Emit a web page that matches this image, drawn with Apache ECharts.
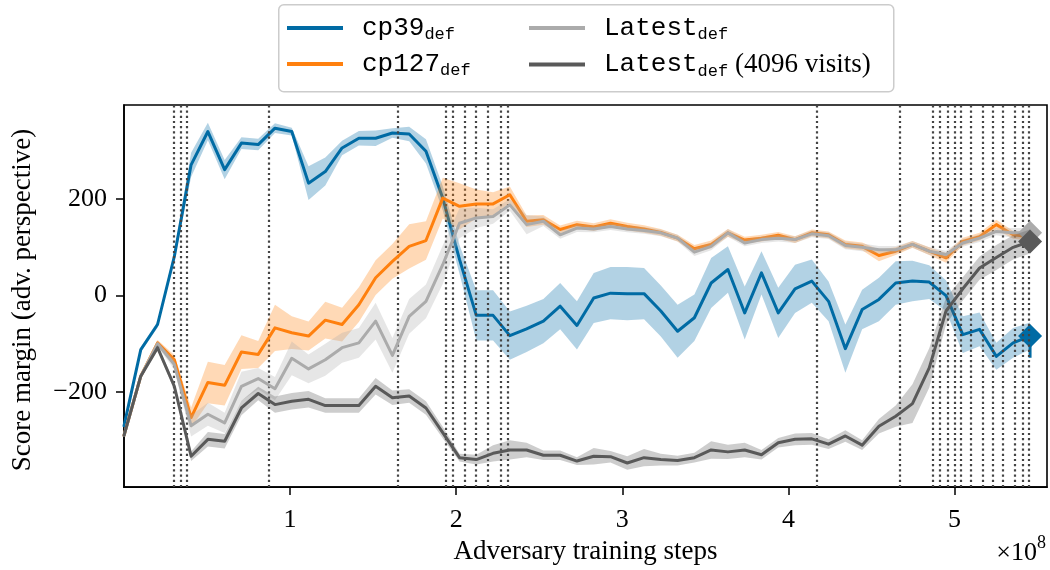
<!DOCTYPE html>
<html><head><meta charset="utf-8">
<script src="https://cdn.jsdelivr.net/npm/echarts@6/dist/echarts.min.js"></script>
<style>html,body{margin:0;padding:0;background:#fff}#c{width:1050px;height:570px}</style>
</head><body><div id="c"></div>
<script>
// Adversary training steps (units of 1e8)
const steps = [0.000,0.101,0.202,0.303,0.404,0.505,0.606,0.707,0.808,0.909,
  1.010,1.111,1.212,1.313,1.414,1.515,1.616,1.717,1.818,1.919,
  2.020,2.121,2.222,2.323,2.424,2.525,2.626,2.727,2.828,2.929,
  3.030,3.131,3.232,3.333,3.434,3.535,3.636,3.737,3.838,3.939,
  4.040,4.141,4.242,4.343,4.444,4.545,4.646,4.747,4.848,4.949,
  5.050,5.151,5.252,5.353,5.455];

const cp39 = [-270,-112,-60,81,271,340,261,316,313,347,
  340,233,257,306,326,326,337,335,299,202,
  75,-41,-41,-83,-69,-53,-22,-62,-5,5,
  4,4,-32,-74,-46,26,54,-36,47,-36,
  14,30,-12,-110,-29,-8,26,30,28,0,
  -81,-70,-126,-98,-84];
const cp39Err = [5,5,6,10,25,18,20,12,12,10,
  8,35,29,15,15,16,10,15,25,25,
  30,52,52,50,48,46,48,50,52,54,
  55,53,53,55,48,52,48,55,45,52,
  50,45,41,50,41,45,45,42,35,32,
  38,35,28,31,28];

const cp127 = [-290,-167,-98,-133,-253,-180,-186,-117,-122,-67,
  -77,-84,-51,-60,-19,37,71,102,114,202,
  185,190,190,209,154,157,137,147,142,150,
  143,138,131,119,97,106,130,115,119,125,
  116,130,126,106,102,83,92,106,92,78,
  112,122,147,126,122];
const cp127Err = [4,5,6,10,21,43,42,35,28,48,
  34,30,38,35,36,36,36,46,40,42,
  48,30,24,17,12,10,8,8,8,8,
  8,8,7,7,8,8,8,7,7,7,
  7,7,7,8,8,12,8,7,8,10,
  8,8,10,8,8];

const latest = [-290,-167,-100,-143,-270,-246,-264,-188,-172,-193,
  -130,-152,-133,-108,-98,-53,-124,-43,-12,64,
  150,161,164,188,147,154,126,140,138,143,
  138,135,130,119,90,102,130,109,116,119,
  116,128,124,104,100,95,95,106,92,85,
  109,119,133,130,130];
const latestErr = [4,5,6,10,22,24,21,30,22,24,
  35,30,33,31,31,38,36,36,35,40,
  31,21,15,12,20,10,8,8,7,7,
  7,7,7,7,8,8,8,7,7,7,
  7,7,7,8,8,8,8,7,8,8,
  8,8,8,10,10];

const latest4096 = [-290,-167,-108,-188,-333,-298,-302,-233,-203,-226,
  -219,-215,-228,-228,-228,-188,-212,-208,-233,-284,
  -336,-340,-327,-320,-320,-331,-331,-343,-333,-334,
  -347,-336,-340,-342,-336,-320,-324,-320,-330,-305,
  -298,-297,-308,-291,-310,-271,-250,-224,-150,-32,
  14,57,79,100,112];
const latest4096Err = [4,5,6,8,10,15,15,15,14,17,
  17,17,15,15,15,17,15,14,14,12,
  8,10,17,20,15,10,10,8,17,12,
  14,18,12,10,10,18,15,15,10,10,
  12,12,10,12,10,15,22,40,41,28,
  24,24,26,25,25];

// error bar below the final cp39 marker (low, high)
const cp39EndBar = [-129, -66];

// dotted vertical lines (units of 1e8)
const vlines = [0.297,0.342,0.384,0.874,1.646,1.943,1.978,2.049,2.120,2.190,2.270,2.308,
  4.175,4.674,4.873,4.913,4.960,4.999,5.044,5.098,5.168,5.231,5.294,5.355,5.405,5.445];

const xTicks = [1,2,3,4,5];
const yTicks = [-200,0,200];

const C = {blue:'#006BA4', orange:'#FF800E', light:'#ABABAB', dark:'#595959'};
const SERIF = "'Liberation Serif', 'DejaVu Serif', serif";
const MONO = "'Liberation Mono', 'DejaVu Sans Mono', monospace";

function bandSeries(mid, err, color, z) {
  return {
    type: 'custom', silent: true, z: z, animation: false,
    data: [[steps[0], mid[0]]],
    renderItem: function (params, api) {
      if (params.dataIndex !== 0) return null;
      const pts = [];
      for (let i = 0; i < steps.length; i++) pts.push(api.coord([steps[i], mid[i] + err[i]]));
      for (let i = steps.length - 1; i >= 0; i--) pts.push(api.coord([steps[i], mid[i] - err[i]]));
      return {type: 'polygon', shape: {points: pts}, style: {fill: color, opacity: 0.3}};
    }
  };
}
function lineSeries(name, mid, color, z) {
  return {
    type: 'line', name: name, z: z, animation: false, symbol: 'none', showSymbol: false,
    data: steps.map((x, i) => [x, mid[i]]),
    lineStyle: {color: color, width: 3, join: 'round', cap: 'round'},
    itemStyle: {color: color}, emphasis: {disabled: true}
  };
}
function markerSeries(mid, color, z) {
  const n = steps.length - 1;
  return {
    type: 'scatter', z: z, animation: false, silent: true,
    symbol: 'diamond', symbolSize: 24,
    data: [[steps[n], mid[n]]],
    itemStyle: {color: color, opacity: 1}
  };
}

const last = steps.length - 1;
const series = [
  {
    type: 'line', z: 1, animation: false, silent: true, symbol: 'none',
    data: [[steps[0], cp39[0]]], lineStyle: {opacity: 0},
    markLine: {
      symbol: ['none', 'none'], silent: true, animation: false,
      label: {show: false},
      lineStyle: {type: [2.2, 3], color: '#444444', width: 2.2},
      emphasis: {disabled: true},
      data: vlines.map(v => ({xAxis: v}))
    }
  },
  bandSeries(cp39, cp39Err, C.blue, 2),
  lineSeries('cp39', cp39, C.blue, 3),
  {
    type: 'line', z: 3, animation: false, silent: true, symbol: 'none',
    data: [[steps[last], cp39EndBar[0]], [steps[last], cp39EndBar[1]]],
    lineStyle: {color: C.blue, width: 3}
  },
  markerSeries(cp39, C.blue, 4),
  bandSeries(cp127, cp127Err, C.orange, 5),
  lineSeries('cp127', cp127, C.orange, 6),
  bandSeries(latest, latestErr, C.light, 7),
  lineSeries('Latest', latest, C.light, 8),
  markerSeries(latest, C.light, 9),
  bandSeries(latest4096, latest4096Err, C.dark, 10),
  lineSeries('Latest4096', latest4096, C.dark, 11),
  markerSeries(latest4096, C.dark, 12)
];

const legendRich = {
  g: {width: 14},
  m: {fontFamily: MONO, fontSize: 26, color: '#000', lineHeight: 30, verticalAlign: 'middle'},
  s: {fontFamily: MONO, fontSize: 17, color: '#000', lineHeight: 14, verticalAlign: 'bottom'},
  r: {fontFamily: SERIF, fontSize: 27, color: '#000', lineHeight: 30, verticalAlign: 'middle'}
};
const legendNames = {
  'cp39': '{g|}{m|cp39}{s|def}',
  'cp127': '{g|}{m|cp127}{s|def}',
  'Latest': '{g|}{m|Latest}{s|def}',
  'Latest4096': '{g|}{m|Latest}{s|def}{r| (4096 visits)}'
};
function legendCfg(left, names) {
  return {
    orient: 'vertical', left: left, top: 15, padding: 0, itemGap: 8,
    icon: 'rect', itemWidth: 56, itemHeight: 4, selectedMode: false,
    data: names, formatter: n => legendNames[n],
    textStyle: {rich: legendRich}
  };
}

const option = {
  animation: false,
  backgroundColor: '#fff',
  grid: {left: 124, right: 3, top: 105, bottom: 82, show: true, borderColor: '#000', borderWidth: 1.6, backgroundColor: 'transparent'},
  xAxis: {
    type: 'value', min: 0, max: 5.557,
    name: 'Adversary training steps', nameLocation: 'middle', nameGap: 49,
    nameTextStyle: {fontFamily: SERIF, fontSize: 27, color: '#000'},
    axisLine: {show: true, onZero: false, lineStyle: {color: '#000', width: 1.6}},
    axisTick: {show: true, length: 8, lineStyle: {color: '#000', width: 1.5}, customValues: xTicks},
    axisLabel: {fontFamily: SERIF, fontSize: 26, color: '#000', margin: 20, customValues: xTicks, formatter: v => String(v)},
    splitLine: {show: false}
  },
  yAxis: {
    type: 'value', min: -397, max: 395,
    axisLine: {show: true, onZero: false, lineStyle: {color: '#000', width: 1.6}},
    axisTick: {show: true, length: 8, lineStyle: {color: '#000', width: 1.5}, customValues: yTicks},
    axisLabel: {fontFamily: SERIF, fontSize: 26, color: '#000', margin: 17, customValues: yTicks, formatter: v => String(v).replace('-', '\u2212')},
    splitLine: {show: false}
  },
  legend: [legendCfg(287, ['cp39', 'cp127']), legendCfg(529, ['Latest', 'Latest4096'])],
  graphic: [
    {type: 'rect', left: 278, top: 4, z: -1, shape: {width: 615, height: 87, r: 5}, style: {fill: '#fff', stroke: '#cccccc', lineWidth: 1.5}},
    {type: 'text', x: 23, y: 300, rotation: Math.PI / 2, style: {
      text: 'Score margin (adv. perspective)', fontFamily: SERIF, fontSize: 27, fill: '#000',
      align: 'center', verticalAlign: 'middle'
    }},
    {type: 'text', right: 4, top: 534, style: {
      text: '{a|\u00d710}{b|8}',
      rich: {a: {fontFamily: SERIF, fontSize: 26, color: '#000', lineHeight: 32, verticalAlign: 'bottom'},
             b: {fontFamily: SERIF, fontSize: 18, color: '#000', lineHeight: 18, verticalAlign: 'top'}}
    }}
  ],
  series: series
};
const chart = echarts.init(document.getElementById('c'), null, {renderer: 'canvas'});
chart.setOption(option);
</script></body></html>
